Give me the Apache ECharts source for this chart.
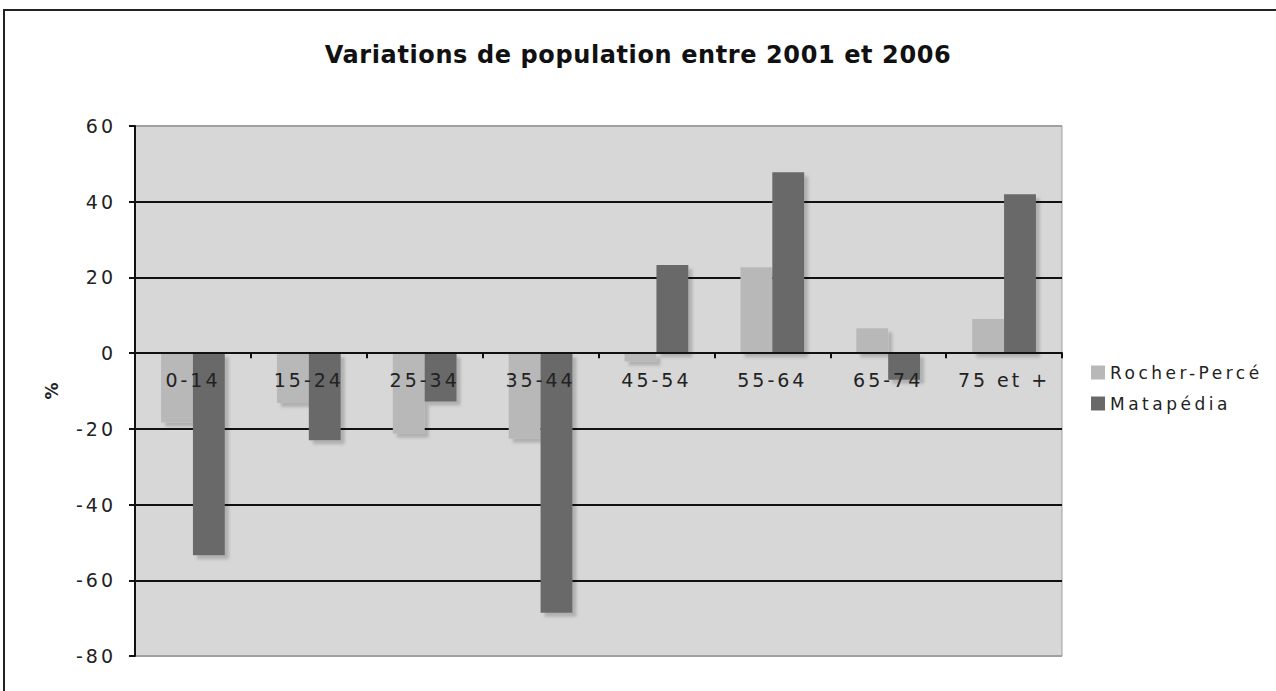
<!DOCTYPE html>
<html>
<head>
<meta charset="utf-8">
<title>Variations de population</title>
<script src="https://cdn.jsdelivr.net/npm/echarts@6/dist/echarts.min.js"></script>
<style>
	html, body {
		margin: 0;
		padding: 0;
		background: #fff;
		overflow: hidden;
	}
	.frame {
		position: absolute;
		left: 3px;
		top: 9px;
		width: 1300px;
		height: 700px;
		border: 2px solid #222;
	}
	#chart {
		position: absolute;
		left: 0;
		top: 0;
		width: 1276px;
		height: 691px;
	}
	/* texte espacé comme dans l'original */
	#chart svg text {
		letter-spacing: 3px;
	}
	#chart svg text.legende {
		letter-spacing: 3.5px;
	}
	#chart svg text.titre {
		letter-spacing: 0.6px;
	}
	#chart svg text.nom {
		letter-spacing: 0;
	}
</style>
</head>
<body>
<div class="frame"></div>
<div id="chart"></div>
<script>
	// tranches d'âge
	var ageGroups = ['0-14', '15-24', '25-34', '35-44', '45-54', '55-64', '65-74', '75 et +'];
	// variations en %
	var rocherPerce = [-18.3, -13.2, -21.3, -22.6, -2.2, 22.7, 6.6, 9.0];
	var matapedia = [-53.4, -23.0, -12.8, -68.6, 23.3, 47.8, -7.0, 42.0];
	var yTicks = [-80, -60, -40, -20, 0, 20, 40, 60];
	var seriesNames = ['Rocher-Percé', 'Matapédia'];

	var font = 'DejaVu Sans';
	var gridTop = 126, gridBottom = 35, chartH = 691;
	var myChart = echarts.init(document.getElementById('chart'), null, { renderer: 'svg' });

	var splitColors = yTicks.map(function(v, i) {
		return (i === 0 || i === yTicks.length - 1) ? '#a0a0a0' : '#111';
	});

	// l'axe des catégories est placé sur la ligne du zéro
	var plotH = chartH - gridTop - gridBottom;
	var zeroFromBottom = plotH * (0 - yTicks[0]) / (yTicks[yTicks.length - 1] - yTicks[0]);

	var option = {
		animation: false,
		backgroundColor: 'transparent',
		title: {
			text: 'Variations de population entre 2001 et 2006',
			left: 'center',
			top: 38,
			textStyle: {
				fontFamily: font,
				fontSize: 24,
				fontWeight: 'bold',
				color: '#111'
			}
		},
		legend: {
			orient: 'vertical',
			left: 1086,
			top: 359,
			itemWidth: 14,
			itemHeight: 14,
			itemGap: 14,
			icon: 'rect',
			textStyle: {
				fontFamily: font,
				fontSize: 17,
				color: '#222'
			},
			data: seriesNames
		},
		grid: {
			left: 135,
			right: 214,
			top: gridTop,
			bottom: gridBottom,
			show: true,
			backgroundColor: '#d7d7d7',
			borderColor: '#a0a0a0',
			borderWidth: 1
		},
		xAxis: {
			type: 'category',
			data: ageGroups,
			z: 5,
			offset: -zeroFromBottom,
			axisLine: {
				onZero: false,
				lineStyle: { color: '#111', width: 2 }
			},
			axisTick: {
				show: true,
				length: 5,
				lineStyle: { color: '#111', width: 2 }
			},
			axisLabel: {
				margin: 17,
				fontFamily: font,
				fontSize: 19,
				color: '#222'
			},
			splitLine: { show: false }
		},
		yAxis: {
			type: 'value',
			min: -80,
			max: 60,
			interval: 20,
			name: '%',
			nameLocation: 'middle',
			nameGap: 75,
			nameMoveOverlap: false,
			nameTextStyle: {
				fontFamily: font,
				fontSize: 17,
				fontWeight: 'bold',
				color: '#222'
			},
			axisLine: {
				show: true,
				lineStyle: { color: '#111', width: 2 }
			},
			axisTick: {
				show: true,
				length: 6,
				lineStyle: { color: '#111', width: 2 }
			},
			axisLabel: {
				margin: 19,
				fontFamily: font,
				fontSize: 19,
				color: '#222'
			},
			splitLine: {
				show: true,
				lineStyle: { color: splitColors, width: 2 }
			}
		},
		series: [
			{
				name: seriesNames[0],
				type: 'bar',
				data: rocherPerce,
				barGap: '0%',
				barCategoryGap: '45%',
				itemStyle: {
					color: '#b8b8b8',
					shadowColor: 'rgba(0, 0, 0, 0.18)',
					shadowBlur: 3,
					shadowOffsetX: 4,
					shadowOffsetY: 4
				}
			},
			{
				name: seriesNames[1],
				type: 'bar',
				data: matapedia,
				barGap: '0%',
				barCategoryGap: '45%',
				itemStyle: {
					color: '#696969',
					shadowColor: 'rgba(0, 0, 0, 0.18)',
					shadowBlur: 3,
					shadowOffsetX: 4,
					shadowOffsetY: 4
				}
			}
		]
	};
	myChart.setOption(option);

	// titre, légende et nom d'axe : espacement différent
	var texts = document.querySelectorAll('#chart svg text');
	for (var i = 0; i < texts.length; i++) {
		var t = texts[i].textContent;
		if (t.indexOf('Variations') === 0) {
			texts[i].setAttribute('class', 'titre');
		} else if (t === '%') {
			texts[i].setAttribute('class', 'nom');
		} else if (seriesNames.indexOf(t) >= 0) {
			texts[i].setAttribute('class', 'legende');
		}
	}
</script>
</body>
</html>
